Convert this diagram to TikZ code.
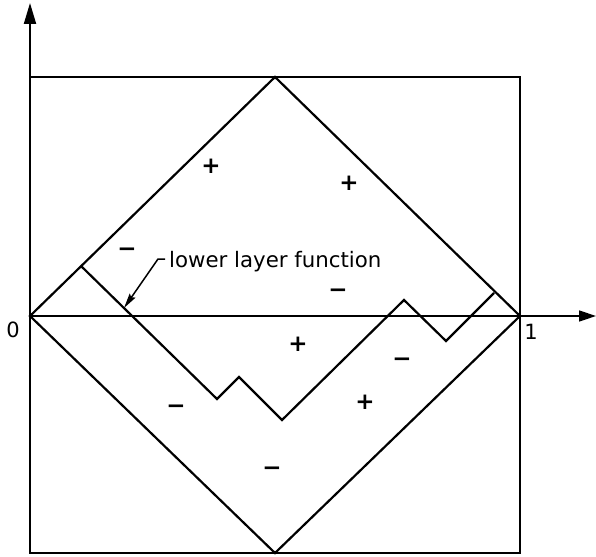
\documentclass[tikz,border=0pt]{standalone}
\usepackage{fontspec}
\setmainfont{DejaVu Sans}
\newfontfamily\signfont{DejaVu Sans Bold}
\usetikzlibrary{arrows.meta}
\tikzset{
  axisline/.style={line width=2pt, -{Triangle[length=21pt,width=12pt]}},
  xaxisline/.style={line width=1.4pt, -{Triangle[length=17pt,width=11pt]}},
  frame/.style={line width=2pt},
  curve/.style={line width=2.2pt, line join=miter},
  sign/.style={font=\signfont\fontsize{23}{23}\selectfont, inner sep=0pt},
  tick/.style={font=\fontsize{21}{21}\selectfont, inner sep=0pt},
  lbl/.style={font=\fontsize{21.3}{22}\selectfont, inner sep=0pt, anchor=west},
  leader/.style={line width=1.5pt, -{Stealth[length=15pt,width=7pt,inset=2pt]}}
}
\begin{document}
\begin{tikzpicture}[x=1pt,y=-1pt]
\useasboundingbox (0,0) rectangle (596,556);
% box corners and diamond vertices
\coordinate (BL) at (30,553);
\coordinate (TR) at (520,77);
\coordinate (DL) at (30,316);
\coordinate (DT) at (275,77);
\coordinate (DR) at (520,316);
\coordinate (DB) at (275,553);
\coordinate (YT) at (30,3);
\coordinate (XR) at (596,316);
% frame
\draw[frame] (BL) rectangle (TR);
% axes
\draw[axisline] (BL) -- (YT);
\draw[xaxisline] (DL) -- (XR);
% diamond
\draw[curve] (DL) -- (DT) -- (DR) -- (DB) -- cycle;
% lower layer function
\coordinate (L0) at (81,266);
\coordinate (L1) at (217,399);
\coordinate (L2) at (239,377);
\coordinate (L3) at (282,420);
\coordinate (L4) at (404,300);
\coordinate (L5) at (446,341);
\coordinate (L6) at (494,293);
\draw[curve] (L0) -- (L1) -- (L2) -- (L3) -- (L4) -- (L5) -- (L6);
% tick labels
\node[tick] (zero) at (13,330) {0};
\node[tick] (one) at (531,332) {1};
% label with leader
\node[lbl] (llf) at (169,262) {lower layer function};
\coordinate (LA) at (165,259);
\coordinate (LB) at (158,259);
\coordinate (LT) at (124,308);
\draw[leader] (LA) -- (LB) -- (LT);
% signs
\node[sign] (p1) at (211,166) {+};
\node[sign] (p2) at (349,183) {+};
\node[sign] (m1) at (127,252) {−};
\node[sign] (m2) at (338,293) {−};
\node[sign] (p3) at (298,344) {+};
\node[sign] (m3) at (402,362) {−};
\node[sign] (p4) at (365,402) {+};
\node[sign] (m4) at (176,409) {−};
\node[sign] (m5) at (272,471) {−};
\end{tikzpicture}
\end{document}
